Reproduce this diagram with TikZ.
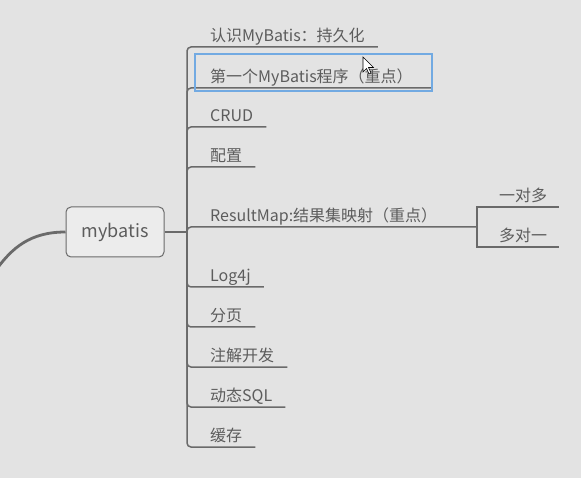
\documentclass[tikz,border=0pt]{standalone}
\usepackage{fontspec}
\setmainfont{Noto Sans CJK SC}
\usetikzlibrary{positioning}
\definecolor{bg}{HTML}{E3E3E3}
\definecolor{linegray}{HTML}{6A6A6A}
\definecolor{txtgray}{HTML}{5C5C5C}
\definecolor{selblue}{HTML}{72AAE2}
\definecolor{rootfill}{HTML}{ECECEC}
\tikzset{
  topic/.style={anchor=south west, inner xsep=13pt, inner ysep=0pt,
    text height=12pt, text depth=5pt, text=txtgray,
    font=\fontsize{16}{18}\selectfont},
  branch/.style={draw=linegray, line width=1.5pt, rounded corners=4pt},
  mainline/.style={draw=linegray, line width=2.8pt},
  rootbox/.style={draw=linegray, fill=rootfill, line width=1pt,
    rounded corners=5pt, minimum width=98pt, minimum height=50pt,
    text=txtgray, font=\fontsize{18}{20}\selectfont},
}
\begin{document}
\begin{tikzpicture}[x=1pt,y=-1pt]
    \fill[bg] (0,0) rectangle (581,478);
    \useasboundingbox (0,0) rectangle (581,478);
    \node[rootbox] (root) at (115,232) {mybatis};
    \coordinate (hub) at (187,232);
    \coordinate (tail) at (-4,270);
    \coordinate (sub) at (477,227);
    \node[topic] (t1) at (197,47) {认识MyBatis：持久化};
    \node[topic] (t2) at (197,88) {第一个MyBatis程序（重点）};
    \node[topic] (t3) at (197,127) {CRUD};
    \node[topic] (t4) at (197,167) {配置};
    \node[topic] (t5) at (197,227) {ResultMap:结果集映射（重点）};
    \node[topic] (t6) at (197,287) {Log4j};
    \node[topic] (t7) at (197,327) {分页};
    \node[topic] (t8) at (197,367) {注解开发};
    \node[topic] (t9) at (197,407) {动态SQL};
    \node[topic] (t10) at (197,447) {缓存};
    \node[topic, inner xsep=12pt] (s1) at (487,207) {一对多};
    \node[topic, inner xsep=12pt] (s2) at (487,247) {多对一};
    \draw[mainline] (root.west) .. controls (30,232) and (12,248) .. (tail);
    \draw[mainline] (root.east) -- (hub);
    \draw[branch] (hub) |- (t1.south west) -- (t1.south east);
    \draw[branch] (hub) |- (t2.south west) -- ([xshift=6pt]t2.south east);
    \draw[branch] (hub) |- (t3.south west) -- (t3.south east);
    \draw[branch] (hub) |- (t4.south west) -- (t4.south east);
    \draw[branch] (hub) |- (t5.south west) -- (t5.south east) -- (sub);
    \draw[branch] (hub) |- (t6.south west) -- (t6.south east);
    \draw[branch] (hub) |- (t7.south west) -- (t7.south east);
    \draw[branch] (hub) |- (t8.south west) -- (t8.south east);
    \draw[branch] (hub) |- (t9.south west) -- (t9.south east);
    \draw[branch] (hub) |- (t10.south west) -- (t10.south east);
    \draw[branch, sharp corners] (sub) |- (s1.south west) -- (s1.south east);
    \draw[branch, sharp corners] (sub) |- (s2.south west) -- (s2.south east);
    % selection frame and mouse pointer
    \draw[selblue, line width=2.4pt] (195,54) rectangle (432,91);
    \draw[fill=white, line width=0.6pt, shift={(363,57)}]
        (0,0) -- (0,15) -- (3.5,11.5) -- (6,17) -- (8,16) -- (5.5,10.5) -- (10.5,10.5) -- cycle;
\end{tikzpicture}
\end{document}
